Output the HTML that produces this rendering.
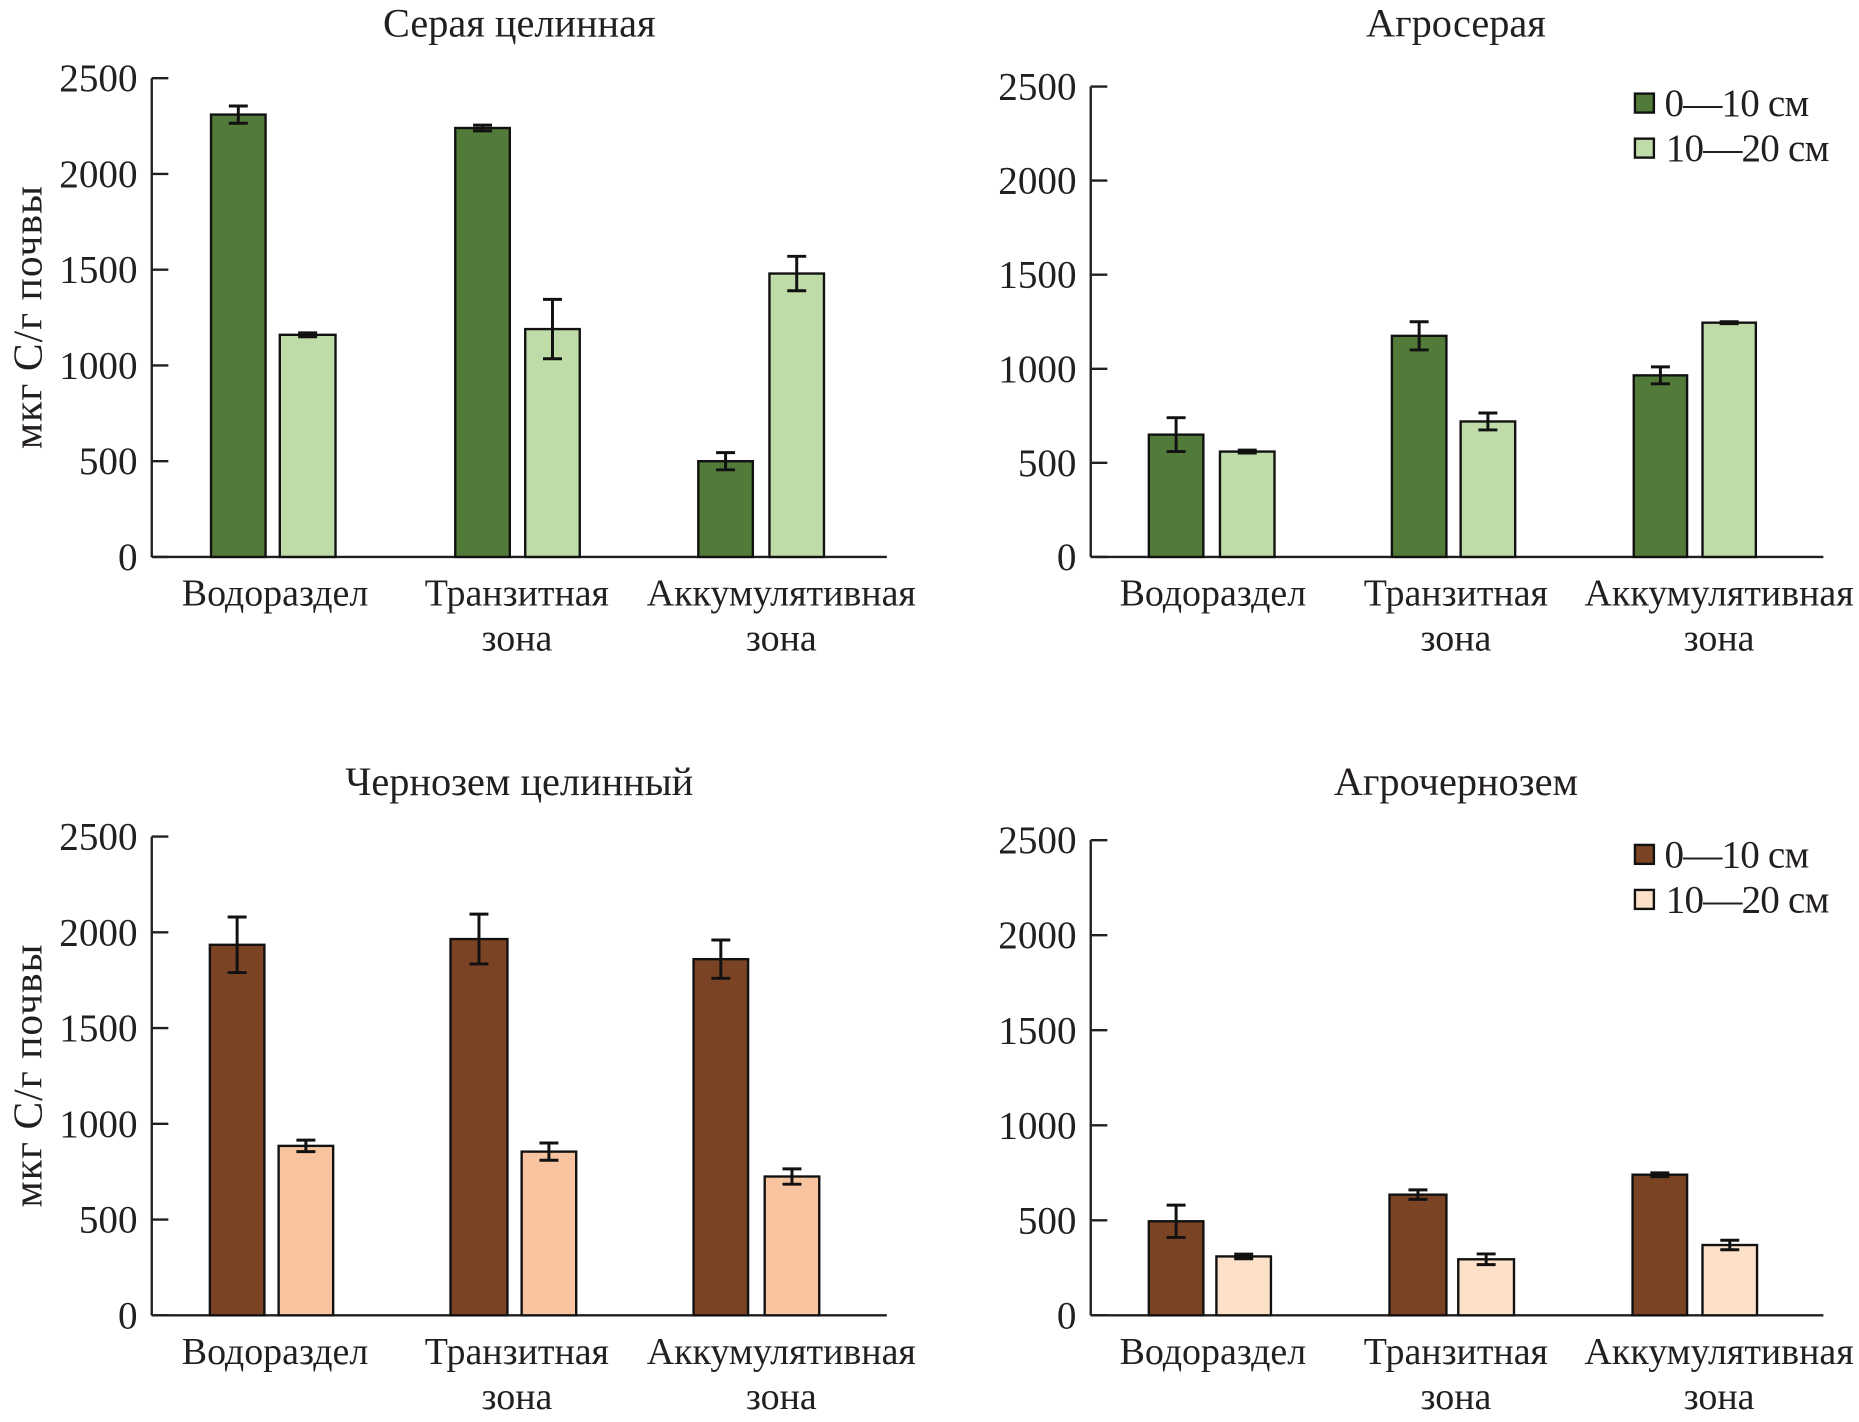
<!DOCTYPE html>
<html><head><meta charset="utf-8"><style>html,body{margin:0;padding:0;background:#fff}svg{display:block}</style></head>
<body>
<svg id="s" width="1859" height="1422" viewBox="0 0 1568 1200" preserveAspectRatio="none" xmlns="http://www.w3.org/2000/svg" font-family="'Liberation Serif', serif" fill="#231f20"></svg>
<script>
const s=document.getElementById('s');let h='';
const P=[
 {ax:128,x2:748,y0:470,y25:66,title:'Серая целинная',tc:438,ty:20,c1:'#527a38',c2:'#bfdca8',
  bars:[[178,224,2310,45],[236,283,1160,10],[384,430,2240,15],[443,489,1190,155],[589,635,500,45],[649,695,1480,90]],lab:[232,436,659],ylab:true},
 {ax:920,x2:1538,y0:470,y25:73,title:'Агросерая',tc:1228,ty:20,c1:'#527a38',c2:'#bfdca8',
  bars:[[969,1015,650,90],[1029,1075,560,8],[1174,1220,1175,75],[1232,1278,720,45],[1378,1423,965,45],[1436,1481,1245,5]],lab:[1023,1228,1450],leg:[79,117]},
 {ax:128,x2:748,y0:1110,y25:706,title:'Чернозем целинный',tc:438,ty:660,c1:'#7a4424',c2:'#f8c4a0',
  bars:[[177,223,1935,145],[235,281,885,30],[380,428,1965,130],[440,486,855,45],[585,631,1860,100],[645,691,725,40]],lab:[232,436,659],ylab:true},
 {ax:920,x2:1538,y0:1110,y25:709,title:'Агрочернозем',tc:1228,ty:660,c1:'#7a4424',c2:'#fde0c8',
  bars:[[969,1015,495,85],[1026,1072,310,12],[1172,1220,635,25],[1230,1277,295,28],[1377,1423,740,10],[1436,1482,370,25]],lab:[1023,1228,1450],leg:[713,751]}
];
for(const p of P){
 const k=(p.y0-p.y25)/2500;const Y=v=>p.y0-v*k;
 h+=`<text x="${p.tc}" y="${p.ty+11}" font-size="34" text-anchor="middle">${p.title}</text>`;
 h+=`<line x1="${p.ax}" y1="${p.y25}" x2="${p.ax}" y2="${p.y0}" stroke="#231f20" stroke-width="2"/>`;
 h+=`<line x1="${p.ax}" y1="${p.y0}" x2="${p.x2}" y2="${p.y0}" stroke="#231f20" stroke-width="2"/>`;
 for(let v=0;v<=2500;v+=500){const y=Y(v);
  h+=`<line x1="${p.ax}" y1="${y}" x2="${p.ax+14}" y2="${y}" stroke="#231f20" stroke-width="2"/>`;
  h+=`<text x="${p.ax-12}" y="${y+11}" font-size="33" text-anchor="end">${v}</text>`;}
 p.bars.forEach((b,i)=>{const y=Y(b[2]);const c=i%2?p.c2:p.c1;
  h+=`<rect x="${b[0]}" y="${y}" width="${b[1]-b[0]}" height="${p.y0-y}" fill="${c}" stroke="#111" stroke-width="2"/>`;
  const cx=(b[0]+b[1])/2,e=b[3]*k;
  h+=`<path d="M${cx} ${y-e}V${y+e}M${cx-8} ${y-e}H${cx+8}M${cx-8} ${y+e}H${cx+8}" stroke="#111" stroke-width="2.5" fill="none"/>`;});
 const ly=p.y0+41;
 h+=`<text x="${p.lab[0]}" y="${ly}" font-size="32" text-anchor="middle">Водораздел</text>`;
 h+=`<text x="${p.lab[1]}" y="${ly}" font-size="32" text-anchor="middle">Транзитная</text><text x="${p.lab[1]}" y="${ly+38}" font-size="32" text-anchor="middle">зона</text>`;
 h+=`<text x="${p.lab[2]}" y="${ly}" font-size="32" text-anchor="middle">Аккумулятивная</text><text x="${p.lab[2]}" y="${ly+38}" font-size="32" text-anchor="middle">зона</text>`;
 if(p.ylab){const cy=(p.y0+p.y25)/2;h+=`<text transform="translate(35 ${cy}) rotate(-90)" font-size="35" text-anchor="middle" textLength="222">мкг С/г почвы</text>`;}
 if(p.leg){[p.c1,p.c2].forEach((c,i)=>{const y=p.leg[i];
  h+=`<rect x="1379" y="${y}" width="16" height="16" fill="${c}" stroke="#111" stroke-width="2"/>`;
  h+=`<text x="${i?1405:1404}" y="${y+19}" font-size="33" textLength="${i?138:122}">${i?'10—20 см':'0—10 см'}</text>`;});}
}
s.innerHTML=h;
</script>
</body></html>
